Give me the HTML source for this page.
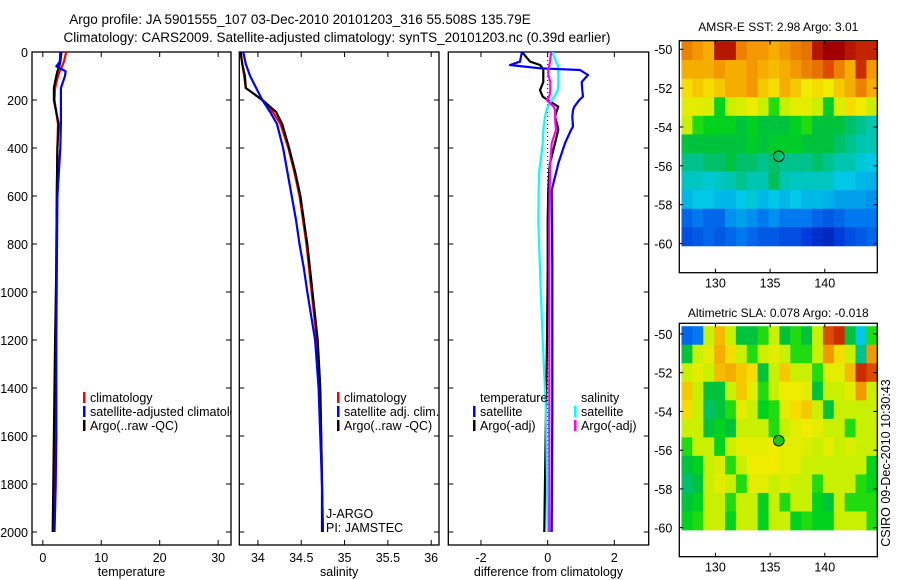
<!DOCTYPE html>
<html><head><meta charset="utf-8">
<style>
html,body{margin:0;padding:0;background:#fff;}
svg{display:block;font-family:"Liberation Sans",Arial,sans-serif;}
</style></head>
<body>
<svg id="fig" width="900" height="580" viewBox="0 0 900 580" xmlns="http://www.w3.org/2000/svg">
<defs><clipPath id="clip1"><rect x="32" y="52" width="199" height="493"/></clipPath></defs>
<rect width="900" height="580" fill="#fff"/>
<text x="300" y="24" font-size="13.5" text-anchor="middle">Argo profile: JA 5901555_107 03-Dec-2010 20101203_316 55.508S 135.79E</text>
<text x="337" y="42" font-size="13.5" text-anchor="middle">Climatology: CARS2009. Satellite-adjusted climatology: synTS_20101203.nc (0.39d earlier)</text>
<g id="plots"></g>
</svg>
<script>
// ---------- data ----------
const tDepth = [0, 40, 60, 80, 100, 150, 200, 300, 400, 600, 900, 1200, 1400, 1600, 1800, 2000];
const tempClim = [4.0, 3.6, 3.3, 2.9, 2.6, 2.1, 2.0, 2.6, 2.5, 2.4, 2.3, 2.2, 2.1, 2.0, 1.9, 1.9];
const tempSat  = [3.0, 2.9, 2.3, 3.9, 3.8, 3.1, 3.1, 3.1, 3.0, 2.5, 2.4, 2.3, 2.3, 2.3, 2.2, 2.0];
const tempArgo = [3.2, 3.0, 2.8, 2.5, 2.3, 1.9, 1.9, 2.7, 2.5, 2.4, 2.3, 2.1, 2.0, 1.9, 1.8, 1.7];

const sDepth = [0, 50, 100, 150, 200, 250, 300, 400, 500, 600, 700, 800, 900, 1000, 1200, 1400, 1600, 1800, 2000];
const salClim = [33.80, 33.82, 33.84, 33.86, 34.05, 34.17, 34.26, 34.35, 34.42, 34.48, 34.52, 34.56, 34.59, 34.62, 34.68, 34.71, 34.73, 34.74, 34.75];
const salSat  = [33.83, 33.86, 33.91, 33.98, 34.05, 34.14, 34.22, 34.29, 34.34, 34.39, 34.44, 34.48, 34.53, 34.57, 34.66, 34.70, 34.72, 34.74, 34.75];
const salArgo = [33.80, 33.82, 33.85, 33.86, 34.05, 34.21, 34.28, 34.36, 34.43, 34.49, 34.53, 34.57, 34.60, 34.63, 34.69, 34.72, 34.73, 34.74, 34.74];

const dDepth = [0, 5, 40, 54, 68, 75, 96, 125, 159, 186, 200, 228, 242, 270, 311, 325, 380, 464, 492, 575, 700, 908, 1200, 1500, 2000];
const diffTempSat  = [-0.78, -0.78, -0.83, -1.13, -0.23, 0.97, 1.21, 1.02, 1.04, 1.06, 0.95, 0.80, 0.76, 0.74, 0.76, 0.70, 0.52, 0.32, 0.27, 0.12, 0.13, 0.14, 0.14, 0.14, 0.12];
const diffTempArgo = [-0.74, -0.74, -0.53, -0.23, -0.15, -0.13, -0.13, -0.13, -0.23, -0.15, 0.00, 0.32, 0.28, 0.22, 0.30, 0.32, 0.22, 0.07, 0.05, 0.02, 0.00, 0.00, -0.02, -0.05, -0.10];
const diffSalSat   = [0.15, 0.15, 0.25, 0.30, 0.32, 0.32, 0.32, 0.32, 0.30, 0.20, 0.12, 0.00, -0.03, -0.08, -0.12, -0.13, -0.15, -0.22, -0.25, -0.27, -0.28, -0.23, -0.15, -0.05, 0.00];
const diffSalArgo  = [0.10, 0.10, 0.07, 0.05, 0.03, 0.02, 0.02, 0.08, 0.08, 0.05, -0.03, 0.18, 0.22, 0.22, 0.24, 0.25, 0.12, 0.08, 0.07, 0.06, 0.05, 0.05, 0.05, 0.05, 0.05];

const depthTicks = [0, 200, 400, 600, 800, 1000, 1200, 1400, 1600, 1800, 2000];
const tempTicks = [0, 10, 20, 30];
const salTicks = [34, 34.5, 35, 35.5, 36];
const salTickLabels = ["34", "34.5", "35", "35.5", "36"];
const diffTicks = [-2, 0, 2];

const mapLons = [127,128,129,130,131,132,133,134,135,136,137,138,139,140,141,142,143,144];
const mapLats = [-50,-51,-52,-53,-54,-55,-56,-57,-58,-59,-60];
const lonTicks = [130, 135, 140];
const latTicks = [-50, -52, -54, -56, -58, -60];
const sstGrid = [
[.78,.75,.72,.95,.95,.78,.75,.75,.72,.75,.78,.80,.95,1,1,.95,.92,.92],
[.72,.72,.72,.75,.72,.72,.75,.72,.70,.72,.75,.78,.80,.85,.78,.72,.90,.75],
[.65,.68,.65,.68,.72,.72,.75,.68,.65,.72,.68,.62,.65,.62,.68,.72,.78,.72],
[.60,.60,.58,.48,.55,.58,.62,.55,.50,.55,.60,.60,.55,.47,.58,.65,.62,.55],
[.55,.50,.48,.48,.48,.45,.48,.45,.45,.45,.48,.50,.45,.45,.45,.42,.40,.38],
[.45,.45,.45,.45,.45,.45,.47,.45,.47,.47,.47,.45,.45,.45,.42,.40,.38,.38],
[.40,.40,.42,.42,.45,.42,.42,.40,.42,.40,.40,.40,.42,.40,.38,.38,.36,.35],
[.37,.37,.36,.37,.38,.40,.38,.38,.43,.38,.37,.37,.37,.37,.35,.35,.33,.32],
[.33,.35,.35,.33,.33,.35,.36,.33,.35,.33,.35,.33,.33,.32,.30,.30,.30,.28],
[.22,.25,.22,.22,.28,.30,.28,.25,.28,.25,.25,.25,.22,.20,.22,.25,.25,.25],
[.18,.20,.22,.20,.22,.25,.22,.20,.20,.18,.18,.15,.12,.10,.15,.18,.20,.22]];
const slaGrid = [
[.22,.25,.55,.70,.55,.45,.45,.50,.55,.45,.50,.45,.55,.85,.90,.45,.35,.50],
[.45,.55,.60,.72,.65,.55,.50,.55,.60,.55,.50,.50,.55,.75,.65,.55,.40,.75],
[.55,.60,.55,.70,.72,.68,.65,.45,.55,.68,.55,.55,.50,.60,.60,.70,.90,.85],
[.68,.55,.45,.45,.55,.68,.60,.50,.55,.62,.62,.60,.45,.55,.55,.60,.75,.55],
[.65,.55,.42,.45,.50,.60,.55,.48,.50,.60,.65,.68,.55,.45,.55,.55,.55,.55],
[.55,.55,.45,.48,.45,.55,.55,.55,.50,.55,.60,.62,.60,.55,.55,.50,.55,.55],
[.50,.55,.55,.48,.55,.60,.60,.60,.62,.60,.60,.58,.55,.60,.55,.58,.55,.55],
[.45,.48,.55,.58,.50,.55,.62,.62,.62,.60,.60,.55,.55,.55,.55,.55,.55,.48],
[.42,.45,.55,.60,.55,.50,.60,.60,.55,.58,.55,.55,.50,.55,.55,.55,.50,.48],
[.45,.48,.55,.55,.50,.55,.55,.48,.55,.50,.55,.55,.48,.45,.55,.50,.50,.50],
[.48,.50,.55,.55,.48,.55,.55,.48,.55,.55,.48,.50,.48,.48,.55,.55,.55,.50]];
const argoLon = 135.79, argoLat = -55.508;

// ---------- drawing ----------
const NS = "http://www.w3.org/2000/svg";
const root = document.getElementById('plots');
function el(tag, attrs, parent, text) {
  const e = document.createElementNS(NS, tag);
  for (const k in attrs) e.setAttribute(k, attrs[k]);
  if (text !== undefined) e.textContent = text;
  (parent || root).appendChild(e);
  return e;
}
const Y0 = 52, Y1 = 545;
const yDepth = d => Y0 + d * 0.24;

function panel(name, x0, x1, vmin, vmax) {
  const g = el('g', {});
  
  
  const sx = v => x0 + (v - vmin) / (vmax - vmin) * (x1 - x0);
  return {g, sx, x0, x1};
}
function frame(p, xt, xtl, title, showY) {
  const {g, sx, x0, x1} = p;
  const r = el('rect', {x: x0, y: Y0, width: x1 - x0, height: Y1 - Y0, fill: 'none', stroke: '#000', 'stroke-width': 1.3}, g);
  
  
  depthTicks.forEach(d => {
    const y = yDepth(d);
    el('line', {x1: x0, x2: x0 + 5, y1: y, y2: y, stroke: '#000'}, g);
    el('line', {x1: x1 - 5, x2: x1, y1: y, y2: y, stroke: '#000'}, g);
    if (showY) {
      const t = el('text', {x: x0 - 4, y: y + 5, 'font-size': 12.5, 'text-anchor': 'end'}, g, String(d));
      
      
    }
  });
  xt.forEach((v, i) => {
    const x = sx(v);
    el('line', {x1: x, x2: x, y1: Y1, y2: Y1 - 5, stroke: '#000'}, g);
    el('line', {x1: x, x2: x, y1: Y0, y2: Y0 + 5, stroke: '#000'}, g);
    const t = el('text', {x: x, y: 562, 'font-size': 12.5, 'text-anchor': 'middle'}, g, xtl[i]);
    
    
  });
  const at = el('text', {x: (x0 + x1) / 2, y: 576, 'font-size': 12.5, 'text-anchor': 'middle'}, g, title);
  
  
}
function line(p, vals, depths, color, name, w) {
  const pts = vals.map((v, i) => p.sx(v).toFixed(1) + ',' + yDepth(depths[i]).toFixed(1)).join(' ');
  const l = el('polyline', {points: pts, fill: 'none', stroke: color, 'stroke-width': w || 2.2, 'stroke-linejoin': 'round'}, p.g);
  
  
}
function legend(g, x, y, color, label, name) {
  const grp = el('g', {}, g);
  
  
  if (color) el('rect', {x: x, y: y - 10, width: 2.5, height: 11, fill: color}, grp);
  el('text', {x: x + 7, y: y, 'font-size': 12.5}, grp, label);
}

// Panel 1: temperature
const p1 = panel('temperature-panel', 32, 231, -1.85, 32.2);
frame(p1, tempTicks, tempTicks.map(String), 'temperature', true);
line(p1, tempClim, tDepth, '#f00', 'temperature-climatology-line');
line(p1, tempArgo, tDepth, '#000', 'temperature-argo-line');
line(p1, tempSat, tDepth, '#00f', 'temperature-satellite-line');
const lg1 = el('g', {'clip-path': 'url(#clip1)'}, p1.g);


legend(lg1, 83, 402, '#f00', 'climatology', 'legend-climatology');
legend(lg1, 83, 416, '#00f', 'satellite-adjusted climatology', 'legend-satellite-adjusted');
legend(lg1, 83, 430, '#000', 'Argo(..raw -QC)', 'legend-argo');

// Panel 2: salinity
const p2 = panel('salinity-panel', 239.3, 439, 33.785, 36.09);
frame(p2, salTicks, salTickLabels, 'salinity', false);
line(p2, salClim, sDepth, '#f00', 'salinity-climatology-line');
line(p2, salArgo, sDepth, '#000', 'salinity-argo-line');
line(p2, salSat, sDepth, '#00f', 'salinity-satellite-line');
legend(p2.g, 337, 402, '#f00', 'climatology', 'legend-climatology');
legend(p2.g, 337, 416, '#00f', 'satellite adj. clim.', 'legend-satellite-adj');
legend(p2.g, 337, 430, '#000', 'Argo(..raw -QC)', 'legend-argo');
const ja = el('text', {x: 326, y: 518, 'font-size': 12.5}, p2.g, 'J-ARGO');
 
const pi = el('text', {x: 326, y: 532, 'font-size': 12.5}, p2.g, 'PI: JAMSTEC');
 

// Panel 3: difference
const p3 = panel('difference-panel', 448.3, 648.7, -2.98, 3.03);
frame(p3, diffTicks, diffTicks.map(String), 'difference from climatology', false);
const zl = el('line', {x1: p3.sx(0), x2: p3.sx(0), y1: Y0, y2: yDepth(2000), stroke: '#000', 'stroke-dasharray': '1,3'}, p3.g);
 
line(p3, diffTempArgo, dDepth, '#000', 'diff-temp-argo-line');
line(p3, diffSalSat, dDepth, '#0ff', 'diff-sal-satellite-line');
line(p3, diffTempSat, dDepth, '#00f', 'diff-temp-satellite-line');
line(p3, diffSalArgo, dDepth, '#f0f', 'diff-sal-argo-line');
legend(p3.g, 473, 402, null, 'temperature', 'legend-temperature-header');
legend(p3.g, 473, 416, '#00f', 'satellite', 'legend-temp-satellite');
legend(p3.g, 473, 430, '#000', 'Argo(-adj)', 'legend-temp-argo');
legend(p3.g, 574, 402, null, 'salinity', 'legend-salinity-header');
legend(p3.g, 574, 416, '#0ff', 'satellite', 'legend-sal-satellite');
legend(p3.g, 574, 430, '#f0f', 'Argo(-adj)', 'legend-sal-argo');

// Maps
const cmapStops = [
  [0.00, 0, 0, 140], [0.15, 0, 60, 220], [0.25, 0, 120, 240], [0.35, 0, 200, 230],
  [0.44, 0, 190, 70], [0.49, 0, 215, 20], [0.55, 200, 240, 0], [0.63, 245, 235, 0],
  [0.74, 245, 160, 0], [0.87, 215, 60, 0], [1.00, 160, 0, 0]];
function cmap(v) {
  v = Math.max(0, Math.min(1, v));
  for (let i = 1; i < cmapStops.length; i++) {
    const a = cmapStops[i - 1], b = cmapStops[i];
    if (v <= b[0]) {
      const t = (v - a[0]) / (b[0] - a[0]);
      const c = k => Math.round(a[k] + (b[k] - a[k]) * t);
      return `rgb(${c(1)},${c(2)},${c(3)})`;
    }
  }
  return 'rgb(160,0,0)';
}
function map(name, grid, fy0, fy1, latTop, latBot, title, titleY, filled) {
  const g = el('g', {});
  
  
  const fx0 = 679.3, fx1 = 877.3;
  const lonMin = 126.7, lonMax = 144.8;
  const sx = lon => fx0 + (lon - lonMin) / (lonMax - lonMin) * (fx1 - fx0);
  const sy = lat => fy0 + (latTop - lat) / (latTop - latBot) * (fy1 - fy0);
  const imgTop = -49.6, imgBot = -60.12, lonL = 126.9;
  const rows = grid.length, cols = grid[0].length;
  const cellLat = (imgTop - imgBot) / rows, cellLon = (lonMax - lonL) / cols;
  grid.forEach((row, i) => row.forEach((v, j) => {
    const x = sx(lonL + j * cellLon), y = sy(imgTop - i * cellLat);
    const r = el('rect', {x: x.toFixed(2), y: y.toFixed(2), width: (sx(lonL + (j + 1) * cellLon) - x + 0.4).toFixed(2), height: (sy(imgTop - (i + 1) * cellLat) - y + 0.4).toFixed(2), fill: cmap(v)}, g);
    
    
  }));
  const f = el('rect', {x: fx0, y: fy0, width: fx1 - fx0, height: fy1 - fy0, fill: 'none', stroke: '#000', 'stroke-width': 1.3}, g);
   
  lonTicks.forEach(l => {
    const x = sx(l);
    el('line', {x1: x, x2: x, y1: fy1, y2: fy1 - 4, stroke: '#000'}, g);
    el('line', {x1: x, x2: x, y1: fy0, y2: fy0 + 4, stroke: '#000'}, g);
    const t = el('text', {x: x, y: fy1 + 15, 'font-size': 12.5, 'text-anchor': 'middle'}, g, String(l));
     
  });
  latTicks.forEach(l => {
    const y = sy(l);
    el('line', {x1: fx0, x2: fx0 + 4, y1: y, y2: y, stroke: '#000'}, g);
    el('line', {x1: fx1 - 4, x2: fx1, y1: y, y2: y, stroke: '#000'}, g);
    const t = el('text', {x: fx0 - 7, y: y + 5, 'font-size': 12.5, 'text-anchor': 'end'}, g, String(l));
     
  });
  const c = el('circle', {cx: sx(argoLon), cy: sy(argoLat), r: 5.3, fill: filled ? '#1c1' : 'none', stroke: '#000', 'stroke-width': 1}, g);
   
  const tt = el('text', {x: (fx0 + fx1) / 2, y: titleY, 'font-size': 12, 'text-anchor': 'middle'}, g, title);
   
}
map('sst-map', sstGrid, 40.7, 272.7, -49.56, -61.5, 'AMSR-E SST: 2.98 Argo: 3.01', 31, false);
map('sla-map', slaGrid, 323.3, 556.7, -49.45, -61.5, 'Altimetric SLA: 0.078 Argo: -0.018', 317, true);

const cs = el('text', {x: 0, y: 0, 'font-size': 12.5, 'text-anchor': 'middle', transform: 'translate(890,463) rotate(-90)'}, root, 'CSIRO 09-Dec-2010 10:30:43');


</script>
</body></html>
